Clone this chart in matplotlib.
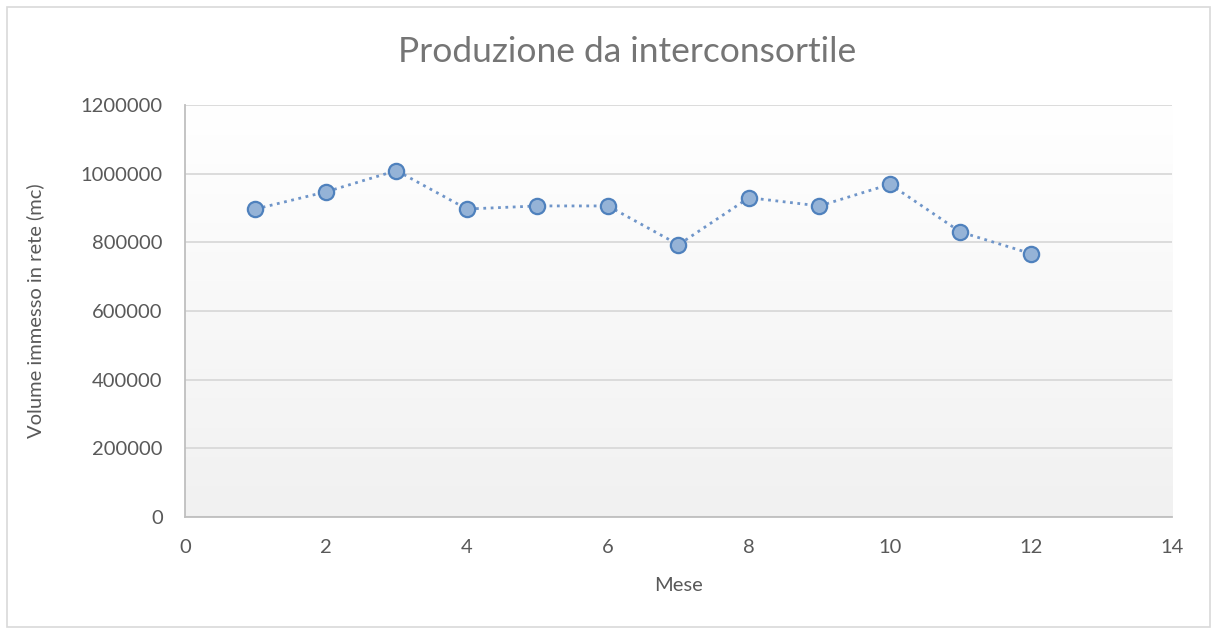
import numpy as np
import matplotlib
matplotlib.use("Agg")
import matplotlib.pyplot as plt
from matplotlib.patches import Rectangle

plt.rcParams["font.family"] = ["Lato", "DejaVu Sans"]

mese = [1, 2, 3, 4, 5, 6, 7, 8, 9, 10, 11, 12]
volume = [897000, 947000, 1009000, 897000, 906000, 906000,
          793000, 930000, 906000, 969000, 830000, 767000]
xticks = [0, 2, 4, 6, 8, 10, 12, 14]
yticks = [0, 200000, 400000, 600000, 800000, 1000000, 1200000]

TXT = "#595959"
GRID = "#d9d9d9"
LINE = "#4f81bd"

fig = plt.figure(figsize=(12.12, 6.28), dpi=100)
ax = fig.add_axes([0.1526, 0.1768, 0.8144, 0.656])

# plot-area gradient: white at top to light gray at bottom
grad = np.linspace(1.0, 0.945, 256).reshape(-1, 1)
ax.imshow(np.dstack([grad, grad, grad]), extent=[0, 1, 0, 1], transform=ax.transAxes,
          aspect="auto", zorder=0, interpolation="bilinear")

ax.plot(mese, volume, ls=":", lw=2, color="#6f95c9", zorder=3)
ax.plot(mese, volume, ls="none", marker="o", ms=11, mfc="#95b3d7", mec=LINE, mew=1.6, zorder=4)

ax.set_xlim(0, 14)
ax.set_ylim(0, 1200000)
ax.set_xticks(xticks)
ax.set_yticks(yticks)
ax.set_yticklabels([str(v) for v in yticks])
ax.yaxis.grid(True, color=GRID, lw=1.3, zorder=1)
ax.set_axisbelow(True)
for s in ("top", "right"):
    ax.spines[s].set_visible(False)
for s in ("left", "bottom"):
    ax.spines[s].set_color("#bfbfbf")
    ax.spines[s].set_linewidth(1.3)
ax.tick_params(length=0, labelsize=14.5, colors=TXT)
ax.tick_params(axis="x", pad=16)
ax.tick_params(axis="y", pad=16)

ax.set_xlabel("Mese", fontsize=14.5, color=TXT, labelpad=15)
ax.set_ylabel("Volume immesso in rete (mc)", fontsize=14.5, color=TXT, labelpad=26)
fig.text(0.5175, 0.917, "Produzione da interconsortile", ha="center", va="center",
         fontsize=25.5, color="#757575")

fig.patches.append(Rectangle((7 / 1212, 1 / 628), 1203 / 1212, 620 / 628, transform=fig.transFigure,
                             fill=False, ec=GRID, lw=1.2))

fig.savefig("out.png", dpi=100, facecolor="white")
